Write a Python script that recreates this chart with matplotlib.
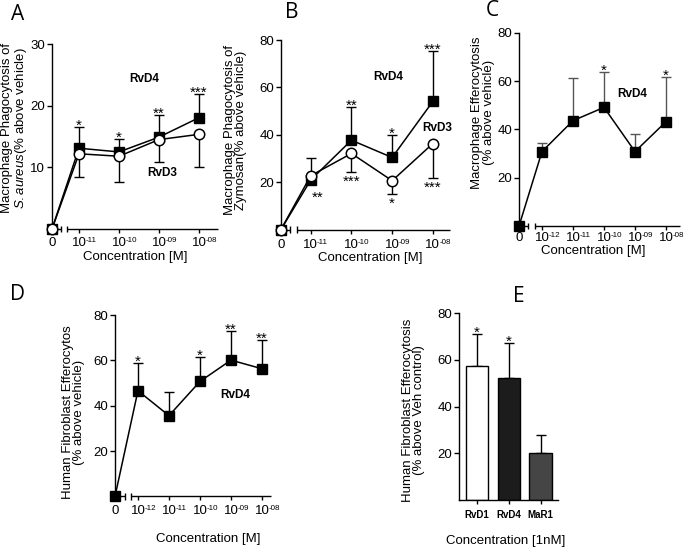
import matplotlib
matplotlib.use('Agg')
import matplotlib.pyplot as plt
import matplotlib.transforms as mtransforms

plt.rcParams['font.family'] = ['Liberation Sans', 'DejaVu Sans']
plt.rcParams['mathtext.fontset'] = 'custom'
plt.rcParams['mathtext.rm'] = 'Liberation Sans'
plt.rcParams['mathtext.it'] = 'Liberation Sans:italic'
plt.rcParams['axes.linewidth'] = 1.0

# ---- data ----
expA = ['-11', '-10', '-09', '-08']          # 10^x [M]
expC = ['-12', '-11', '-10', '-09', '-08']

a_rvd4 = [0, 13.1, 12.5, 14.9, 18.05]
a_rvd4_err = [0, 3.5, 2.1, 3.6, 3.85]
a_rvd3 = [0, 12.2, 11.8, 14.5, 15.35]
a_rvd3_err = [0, 3.8, 4.1, 3.7, 5.35]
a_stars = ['', '*', '*', '**', '***']

b_rvd4 = [0, 20.9, 37.7, 30.4, 54.1]
b_rvd4_err = [0, 9.1, 14.1, 9.7, 21.1]
b_rvd3 = [0, 22.7, 32.1, 20.6, 36.3]
b_rvd3_err = [0, 0, 7.7, 5.6, 14.7]
b_stars_up = ['', '', '**', '*', '***']
b_stars_down = ['', '**', '***', '*', '***']

c_rvd4 = [0, 30.8, 43.6, 49.1, 30.8, 43.2]
c_rvd4_err = [0, 3.5, 17.8, 14.5, 7.1, 18.6]
c_stars = ['', '', '', '*', '', '*']

d_rvd4 = [0, 46.6, 35.6, 50.7, 60.1, 56.3]
d_rvd4_err = [0, 12.4, 10.6, 10.9, 13.0, 12.5]
d_stars = ['', '*', '', '*', '**', '**']

e_names = ['RvD1', 'RvD4', 'MaR1']
e_vals = [57.4, 52.4, 20.1]
e_err = [13.7, 15.0, 7.8]
e_stars = ['*', '*', '']
e_colors = ['white', '#1c1c1c', '#454545']

fig = plt.figure(figsize=(6.85, 5.48), dpi=100)

FS = 9.5
STAR = 11


def positions(n, first):
    return [0] + [first + i for i in range(n)]


def style_axis(ax, xs, exps, xlim, ylim, yticks, brk, xpad=2):
    ax.set_xlim(*xlim)
    ax.set_ylim(*ylim)
    ax.spines['top'].set_visible(False)
    ax.spines['right'].set_visible(False)
    ax.spines['bottom'].set_visible(False)
    ax.set_yticks(yticks)
    ax.tick_params(axis='y', direction='out', length=3.5, width=1, pad=1.5, labelsize=FS)
    ax.set_xticks(xs)
    ax.set_xticklabels(['0'] + ['10'] * len(exps))
    ax.tick_params(axis='x', direction='out', length=3, width=1, pad=xpad, labelsize=FS)
    ax.get_xticklines()[0].set_visible(False)
    ax.get_xticklines()[1].set_visible(False)
    tr = mtransforms.blended_transform_factory(ax.transData, ax.transAxes)
    # small exponents next to the "10"
    for x, e in zip(xs[1:], exps):
        ax.annotate(e, (x, 0), xycoords=tr, xytext=(4.6, -3.0 - xpad),
                    textcoords='offset points', ha='left', va='top', fontsize=5.8,
                    annotation_clip=False)
    # broken x axis
    kw = dict(color='black', lw=1.0, transform=tr, clip_on=False, solid_capstyle='butt')
    ax.plot([xlim[0], brk[0]], [0, 0], **kw)
    ax.plot([brk[1], xlim[1]], [0, 0], **kw)
    for b in brk:
        ax.plot([b, b], [-0.018, 0.018], **kw)


def stars(ax, xs, base, marks, dy, va='baseline', dx=0):
    for x, b, s in zip(xs, base, marks):
        if s:
            ax.annotate(s, (x, b), xytext=(dx, dy), textcoords='offset points',
                        ha='center', va=va, fontsize=STAR, annotation_clip=False)


def square_line(ax, xs, ys, err, ecolor='black'):
    ax.errorbar(xs, ys, yerr=[[0] * len(err), err], fmt='none', ecolor=ecolor,
                elinewidth=1.0, capsize=3.5, capthick=1.0, clip_on=False, zorder=2)
    ax.plot(xs, ys, '-', color='black', lw=1.1, marker='s', ms=6.5, mfc='black',
            mec='black', clip_on=False, zorder=4)


def circle_line(ax, xs, ys, err):
    ax.errorbar(xs, ys, yerr=[err, [0] * len(err)], fmt='none', ecolor='black',
                elinewidth=1.0, capsize=3.5, capthick=1.0, clip_on=False, zorder=2)
    ax.plot(xs, ys, '-', color='black', lw=1.1, marker='o', ms=7.5, mfc='white',
            mec='black', mew=1.1, clip_on=False, zorder=5)


# ---- A ----
axA = fig.add_axes([0.0759, 0.5821, 0.2423, 0.3376])
xa = positions(4, 0.675)
style_axis(axA, xa, expA, (0, 4.15), (0, 30), [10, 20, 30], (0.22, 0.375), xpad=3)
square_line(axA, xa, a_rvd4, a_rvd4_err)
circle_line(axA, xa, a_rvd3, a_rvd3_err)
stars(axA, xa, [v + e for v, e in zip(a_rvd4, a_rvd4_err)], a_stars, -2)
axA.text(2.3, 24.3, 'RvD4', fontsize=8.5, fontweight='bold', ha='center', va='center')
axA.text(2.75, 9.1, 'RvD3', fontsize=8.5, fontweight='bold', ha='center', va='center')
axA.set_ylabel('Macrophage Phagocytosis of\n$\\it{S.aureus}$(% above vehicle)', fontsize=FS,
               linespacing=0.95)
axA.yaxis.set_label_coords(-0.14, 0.546)
axA.set_xlabel('Concentration [M]', fontsize=FS)
axA.xaxis.set_label_coords(0.5, -0.12)

# ---- B ----
axB = fig.add_axes([0.4102, 0.5812, 0.2467, 0.3458])
xb = positions(4, 0.73)
style_axis(axB, xb, expA, (0, 4.15), (0, 80), [20, 40, 60, 80], (0.22, 0.39), xpad=3.5)
square_line(axB, xb, b_rvd4, b_rvd4_err)
circle_line(axB, xb, b_rvd3, b_rvd3_err)
stars(axB, xb, [v + e for v, e in zip(b_rvd4, b_rvd4_err)], b_stars_up, -2)
for x, v, e, s, sq in zip(xb, b_rvd3, b_rvd3_err, b_stars_down, b_rvd4):
    if not s:
        continue
    if e > 0:
        stars(axB, [x], [v - e], [s], -10)
    else:
        stars(axB, [x], [min(v, sq)], [s], -16, dx=5)
axB.text(2.63, 64.3, 'RvD4', fontsize=8.5, fontweight='bold', ha='center', va='center')
axB.text(3.83, 42.8, 'RvD3', fontsize=8.5, fontweight='bold', ha='center', va='center')
axB.set_ylabel('Macrophage Phagocytosis of\nZymosan(% above vehicle)', fontsize=FS,
               linespacing=0.95)
axB.yaxis.set_label_coords(-0.2, 0.525)
axB.set_xlabel('Concentration [M]', fontsize=FS)
axB.xaxis.set_label_coords(0.53, -0.12)

# ---- C ----
axC = fig.add_axes([0.7577, 0.5876, 0.2350, 0.3527])
xc = positions(5, 0.74)
style_axis(axC, xc, expC, (0, 5.19), (0, 80), [20, 40, 60, 80], (0.29, 0.5), xpad=1.5)
square_line(axC, xc, c_rvd4, c_rvd4_err, ecolor='#555555')
stars(axC, xc, [v + e for v, e in zip(c_rvd4, c_rvd4_err)], c_stars, -2)
axC.text(3.65, 54.6, 'RvD4', fontsize=8.5, fontweight='bold', ha='center', va='center')
axC.set_ylabel('Macrophage Efferocytosis\n(% above vehicle)', fontsize=FS, linespacing=0.95)
axC.yaxis.set_label_coords(-0.15, 0.585)
axC.set_xlabel('Concentration [M]', fontsize=FS)
axC.xaxis.set_label_coords(0.46, -0.1)

# ---- D ----
axD = fig.add_axes([0.1679, 0.0943, 0.2277, 0.3308])
xd = positions(5, 0.74)
style_axis(axD, xd, expC, (0, 5.03), (0, 80), [20, 40, 60, 80], (0.33, 0.52), xpad=3)
square_line(axD, xd, d_rvd4, d_rvd4_err)
stars(axD, xd, [v + e for v, e in zip(d_rvd4, d_rvd4_err)], d_stars, -2)
axD.text(3.87, 44.7, 'RvD4', fontsize=8.5, fontweight='bold', ha='center', va='center')
axD.set_ylabel('Human Fibroblast Efferocytos\n(% above vehicle)', fontsize=FS, linespacing=0.95)
axD.yaxis.set_label_coords(-0.19, 0.465)
axD.set_xlabel('Concentration [M]', fontsize=FS)
axD.xaxis.set_label_coords(0.6, -0.2)

# ---- E ----
axE = fig.add_axes([0.6701, 0.0876, 0.1445, 0.3407])
xe = list(range(len(e_names)))
axE.bar(xe, e_vals, width=0.71, color=e_colors, edgecolor='black', linewidth=1.0, zorder=2)
axE.errorbar(xe, e_vals, yerr=[[0] * 3, e_err], fmt='none', ecolor='black', elinewidth=1.0,
             capsize=3.5, capthick=1.0, zorder=1)
axE.set_xlim(-0.57, 2.55)
axE.set_ylim(0, 80)
for s in ['top', 'right']:
    axE.spines[s].set_visible(False)
axE.set_yticks([20, 40, 60, 80])
axE.tick_params(axis='y', direction='out', length=3.5, width=1, pad=1.5, labelsize=FS)
axE.set_xticks(xe)
axE.set_xticklabels(e_names, fontsize=7, fontweight='bold')
axE.tick_params(axis='x', direction='out', length=3, width=1, pad=4)
stars(axE, xe, [v + e for v, e in zip(e_vals, e_err)], e_stars, -2)
axE.set_ylabel('Human Fibroblast Efferocytosis\n(% above Veh control)', fontsize=FS,
               linespacing=0.95)
axE.yaxis.set_label_coords(-0.34, 0.48)
axE.set_xlabel('Concentration [1nM]', fontsize=FS)
axE.xaxis.set_label_coords(0.475, -0.19)

# panel letters
for lab, (px, py) in zip('ABCDE', [(18, 15), (292, 13), (492, 10), (18, 295), (519, 297)]):
    fig.text(px / 685, 1 - py / 548, lab, fontsize=15, ha='center', va='center',
             family='Open Sans')

fig.savefig('out.png', dpi=100)
